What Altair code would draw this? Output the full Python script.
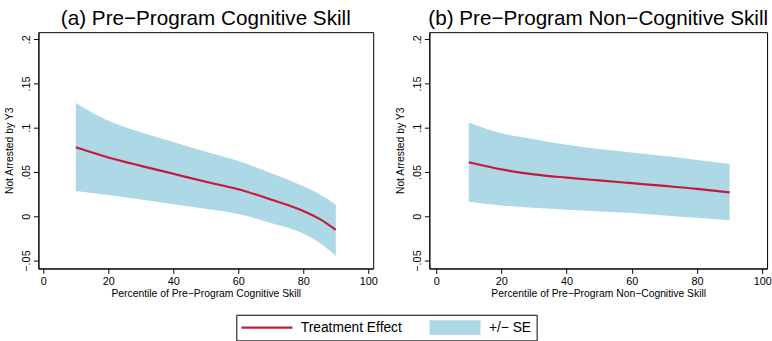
import altair as alt
import pandas as pd

# Panel (a): pre-program cognitive skill
x_cog = [10, 20, 30, 40, 50, 60, 70, 80, 85, 90]
eff_cog = [0.078, 0.0665, 0.057, 0.048, 0.039, 0.0305, 0.019, 0.006, -0.003, -0.0155]
hi_cog = [0.128, 0.108, 0.095, 0.084, 0.073, 0.0625, 0.049, 0.034, 0.025, 0.013]
lo_cog = [0.0285, 0.024, 0.019, 0.0137, 0.0085, 0.0026, -0.0075, -0.0195, -0.030, -0.0448]

# Panel (b): pre-program non-cognitive skill
x_non = [10, 20, 30, 40, 50, 60, 70, 80, 90]
eff_non = [0.061, 0.053, 0.0474, 0.0437, 0.0405, 0.0374, 0.0343, 0.031, 0.027]
hi_non = [0.106, 0.0937, 0.087, 0.0807, 0.076, 0.072, 0.068, 0.0637, 0.059]
lo_non = [0.0163, 0.0122, 0.0095, 0.0074, 0.0055, 0.0037, 0.001, -0.0017, -0.0044]

titles = ["(a) Pre\u2212Program Cognitive Skill", "(b) Pre\u2212Program Non\u2212Cognitive Skill"]
xtitles = ["Percentile of Pre\u2212Program Cognitive Skill", "Percentile of Pre\u2212Program Non\u2212Cognitive Skill"]
ytitle = "Not Arrested by Y3"
x_ticks = [0, 20, 40, 60, 80, 100]
y_ticks = [-0.05, 0, 0.05, 0.1, 0.15, 0.2]
series_names = ["Treatment Effect", "+/\u2212 SE"]

FONT = "Liberation Sans"
RED = "#C8173E"
BLUE = "#ADD8E6"


def make_legend():
    return alt.Legend(
        title=None,
        orient="none",
        direction="horizontal",
        columns=2,
        legendX=201,
        legendY=287,
        padding=5,
        strokeColor="black",
        labelFont=FONT,
        labelFontSize=14,
        labelColor="black",
        labelOffset=38,
        columnPadding=27,
        clipHeight=16,
        symbolSize=225,
        symbolOffset=-7.5,
        symbolType="M-1,0H5.93",
        symbolOpacity=1,
    )


def panel(xs, eff, lo, hi, title, xtitle, width, xdomain):
    df = pd.DataFrame({"x": xs, "eff": eff, "lo": lo, "hi": hi})
    base = alt.Chart(df)
    xenc = alt.X(
        "x:Q",
        scale=alt.Scale(domain=xdomain, nice=False, zero=False),
        axis=alt.Axis(values=x_ticks, format="d", title=xtitle, titlePadding=2),
    )
    yscale = alt.Scale(domain=[-0.059, 0.208], nice=False, zero=False)
    yaxis = alt.Axis(
        values=y_ticks,
        labelExpr="replace(format(datum.value, '.2~f'), '0.', '.')",
        labelAngle=270,
        labelAlign="center",
        labelBaseline="bottom",
        title=ytitle,
        titlePadding=6,
    )
    band = base.mark_area(opacity=1, interpolate="monotone").encode(
        x=xenc,
        y=alt.Y("lo:Q", scale=yscale, axis=yaxis),
        y2="hi:Q",
        fill=alt.value(BLUE),
    )
    line = base.transform_calculate(series="'" + series_names[0] + "'").mark_line(
        interpolate="monotone"
    ).encode(
        x=xenc,
        y=alt.Y("eff:Q", scale=yscale, axis=yaxis),
        stroke=alt.Stroke(
            "series:N",
            scale=alt.Scale(domain=series_names, range=[RED, BLUE]),
            legend=make_legend(),
        ),
        strokeWidth=alt.StrokeWidth(
            "series:N",
            scale=alt.Scale(type="ordinal", domain=series_names, range=[2.2, 15]),
            legend=make_legend(),
        ),
    )
    return alt.layer(band, line).properties(
        width=width,
        height=240,
        title=alt.TitleParams(
            text=title, font=FONT, fontSize=21, fontWeight="normal",
            anchor="middle", frame="group", offset=3, color="black",
        ),
    )


left = panel(x_cog, eff_cog, lo_cog, hi_cog, titles[0], xtitles[0], 340, [-1.5, 101.5])
right = panel(x_non, eff_non, lo_non, hi_non, titles[1], xtitles[1], 343, [-2.1, 101.5])

chart = alt.hconcat(left, right, spacing=17).properties(
    padding={"left": 4, "top": 5, "right": 0, "bottom": 0},
    background="white",
).configure_view(
    stroke="black", strokeWidth=1,
).configure_axis(
    grid=False,
    domainColor="black",
    tickColor="black",
    labelColor="black",
    titleColor="black",
    labelFont=FONT,
    titleFont=FONT,
    labelFontSize=11,
    titleFontSize=10.5,
    titleFontWeight="normal",
    tickSize=5,
    labelPadding=2,
    titlePadding=3,
)

chart.save("out.html", embed_options={"renderer": "svg", "actions": False})
